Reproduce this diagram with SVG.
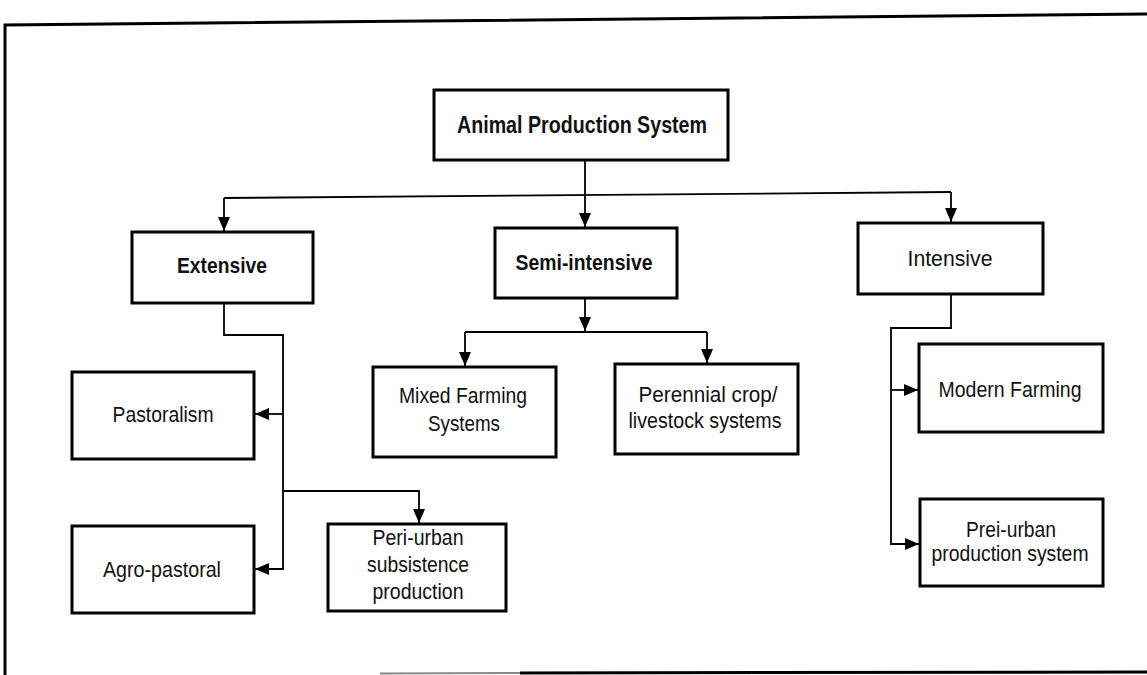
<svg xmlns="http://www.w3.org/2000/svg" width="1147" height="675" viewBox="0 0 1147 675">
<style>
.box{fill:#fff;stroke:#000;stroke-width:3}
.t{font-family:"Liberation Sans Narrow","Liberation Sans",Arial,sans-serif;font-size:22px;fill:#111;text-anchor:middle}
.b{font-weight:bold}
.r{font-size:23px}
.c{fill:none;stroke:#000;stroke-width:1.8}
.frame{fill:none;stroke:#000;stroke-width:3}
</style>
<defs>
<marker id="ah" markerUnits="userSpaceOnUse" markerWidth="16" markerHeight="16" viewBox="0 0 16 16" refX="14" refY="8" orient="auto">
<path d="M0,2 L14,8 L0,14 Z" fill="#000"/>
</marker>
</defs>
<rect width="1147" height="675" fill="#fff"/>
<g id="frame">
<path class="frame" d="M1147,14 L5,25 L5,675"/>
<line x1="380" y1="673.5" x2="520" y2="673" stroke="#888" stroke-width="2"/>
<line x1="520" y1="673" x2="1147" y2="672" stroke="#000" stroke-width="3"/>
</g>
<g id="connectors">
<path class="c" d="M585,160 V194"/>
<path class="c" d="M224,198 L951,192"/>
<path class="c" d="M224,198 V231" marker-end="url(#ah)"/>
<path class="c" d="M585,194 V227" marker-end="url(#ah)"/>
<path class="c" d="M951,192 V222" marker-end="url(#ah)"/>
<path class="c" d="M224,303 V335 H283 V569 H255" marker-end="url(#ah)"/>
<path class="c" d="M283,414 H255" marker-end="url(#ah)"/>
<path class="c" d="M283,491 H419 V523" marker-end="url(#ah)"/>
<path class="c" d="M585,298 V331" marker-end="url(#ah)"/>
<path class="c" d="M465,332 H707"/>
<path class="c" d="M465,332 V366" marker-end="url(#ah)"/>
<path class="c" d="M707,332 V363" marker-end="url(#ah)"/>
<path class="c" d="M951,294 V328 H891 V544 H919" marker-end="url(#ah)"/>
<path class="c" d="M891,390 H918" marker-end="url(#ah)"/>
</g>
<g id="n-root">
<rect class="box" x="434" y="90" width="294" height="70"/>
<text class="t b r" x="582" y="133" textLength="250" lengthAdjust="spacingAndGlyphs">Animal Production System</text>
</g>
<g id="n-extensive">
<rect class="box" x="132" y="232" width="181" height="71"/>
<text class="t b" x="222" y="273" textLength="90" lengthAdjust="spacingAndGlyphs">Extensive</text>
</g>
<g id="n-semi">
<rect class="box" x="495" y="228" width="182" height="70"/>
<text class="t b" x="584" y="270" textLength="137" lengthAdjust="spacingAndGlyphs">Semi-intensive</text>
</g>
<g id="n-intensive">
<rect class="box" x="858" y="223" width="185" height="71"/>
<text class="t" x="950" y="266" textLength="85" lengthAdjust="spacingAndGlyphs">Intensive</text>
</g>
<g id="n-pastoralism">
<rect class="box" x="72" y="372" width="182" height="87"/>
<text class="t" x="163" y="422" textLength="101" lengthAdjust="spacingAndGlyphs">Pastoralism</text>
</g>
<g id="n-agro">
<rect class="box" x="72" y="526" width="182" height="87"/>
<text class="t" x="162" y="577" textLength="118" lengthAdjust="spacingAndGlyphs">Agro-pastoral</text>
</g>
<g id="n-periurban">
<rect class="box" x="328" y="524" width="178" height="87"/>
<text class="t" x="418" y="545" textLength="91" lengthAdjust="spacingAndGlyphs">Peri-urban</text>
<text class="t" x="418" y="572" textLength="102" lengthAdjust="spacingAndGlyphs">subsistence</text>
<text class="t" x="418" y="599" textLength="91" lengthAdjust="spacingAndGlyphs">production</text>
</g>
<g id="n-mixed">
<rect class="box" x="373" y="367" width="183" height="90"/>
<text class="t" x="463" y="403" textLength="128" lengthAdjust="spacingAndGlyphs">Mixed Farming</text>
<text class="t" x="464" y="431" textLength="72" lengthAdjust="spacingAndGlyphs">Systems</text>
</g>
<g id="n-perennial">
<rect class="box" x="615" y="364" width="183" height="90"/>
<text class="t" x="708" y="402" textLength="139" lengthAdjust="spacingAndGlyphs">Perennial crop/</text>
<text class="t" x="705" y="428" textLength="153" lengthAdjust="spacingAndGlyphs">livestock systems</text>
</g>
<g id="n-modern">
<rect class="box" x="919" y="344" width="184" height="88"/>
<text class="t" x="1010" y="397" textLength="143" lengthAdjust="spacingAndGlyphs">Modern Farming</text>
</g>
<g id="n-preiurban">
<rect class="box" x="920" y="499" width="183" height="87"/>
<text class="t" x="1011" y="537" textLength="90" lengthAdjust="spacingAndGlyphs">Prei-urban</text>
<text class="t" x="1010" y="561" textLength="157" lengthAdjust="spacingAndGlyphs">production system</text>
</g>
</svg>
